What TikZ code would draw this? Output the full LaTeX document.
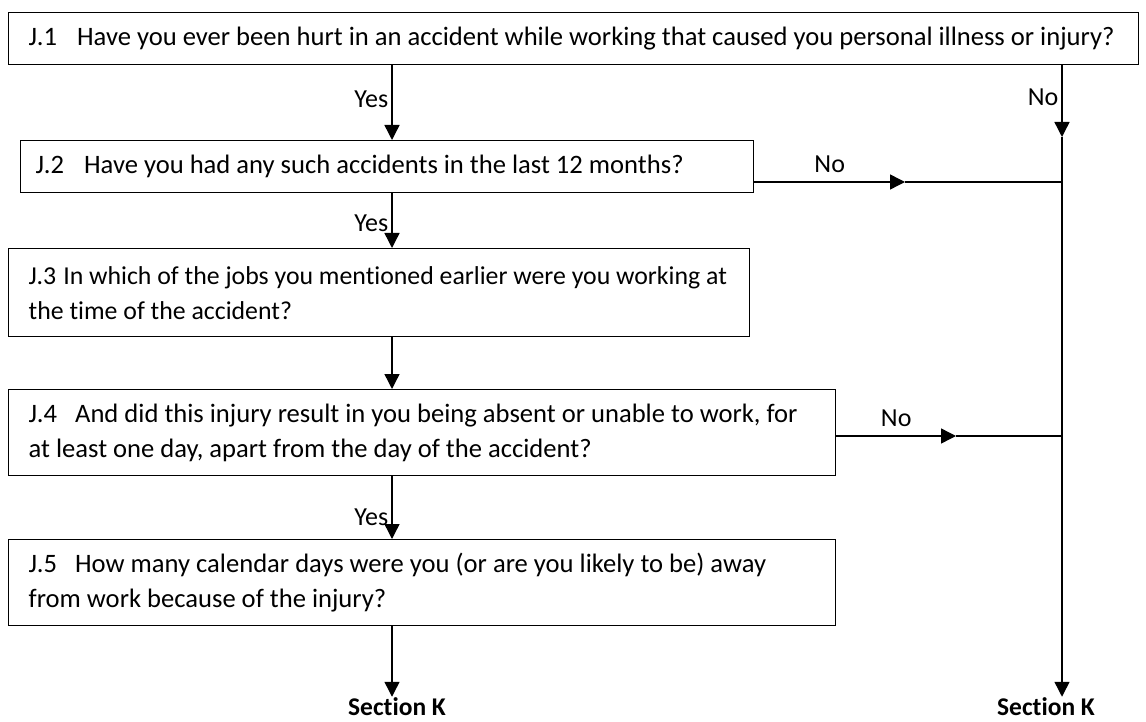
\documentclass[tikz,border=0pt]{standalone}
\usepackage{fontspec}
\setmainfont{Carlito}[Ligatures=NoCommon]
\usetikzlibrary{arrows.meta}
\tikzset{
  qbox/.style={draw, line width=1.4pt, anchor=north west, align=flush left, inner xsep=20pt, inner ysep=0pt, font=\fontsize{26.6}{35}\selectfont},
  flow/.style={line width=1.4pt},
  arr/.style={flow, -{Triangle[length=15pt,width=15pt]}},
  lbl/.style={inner sep=3pt, font=\fontsize{26}{28}\selectfont},
  endlbl/.style={inner sep=1pt, font=\fontsize{25.5}{28}\selectfont\bfseries},
}
\begin{document}
\begin{tikzpicture}[x=1pt,y=-1pt]
    \useasboundingbox (0,0) rectangle (1146,722);
    % question boxes
    \node[qbox, text width=1090pt, minimum height=52pt] (j1) at (8,12) {J.1\hspace{20pt}Have you ever been hurt in an accident while working that caused you personal illness or injury?};
    \node[qbox, inner xsep=15pt, text width=703pt, minimum height=52pt] (j2) at (20,140) {J.2\hspace{20pt}Have you had any such accidents in the last 12 months?};
    \node[qbox, font=\fontsize{25.8}{35}\selectfont, text width=701pt, minimum height=88pt] (j3) at (8,248) {J.3\hspace{7pt}In which of the jobs you mentioned earlier were you working at\\the time of the accident?};
    \node[qbox, text width=787pt, minimum height=86pt] (j4) at (8,389) {J.4\hspace{18pt}And did this injury result in you being absent or unable to work, for\\at least one day, apart from the day of the accident?};
    \node[qbox, text width=787pt, minimum height=86pt] (j5) at (8,539) {J.5\hspace{18pt}How many calendar days were you (or are you likely to be) away\\from work because of the injury?};
    \node[endlbl] (sk1) at (397,707) {Section K};
    \node[endlbl] (sk2) at (1046,707) {Section K};
    % columns and mid points
    \coordinate (xa) at (392,0);
    \coordinate (xr) at (1062,0);
    \coordinate (r1) at (1062,137);
    \coordinate (m2) at (905,182);
    \coordinate (m4) at (956,436);
    % yes path
    \draw[arr] (j1.south -| xa) -- node[lbl, left, pos=0.45] {Yes} (j2.north -| xa);
    \draw[arr] (j2.south -| xa) -- node[lbl, left, pos=0.55] {Yes} (j3.north -| xa);
    \draw[arr] (j3.south -| xa) -- (j4.north -| xa);
    \draw[arr] (j4.south -| xa) -- node[lbl, left, pos=0.65] {Yes} (j5.north -| xa);
    \draw[arr] (j5.south -| xa) -- (sk1.north -| xa);
    % no path
    \draw[arr] (j1.south -| xr) -- node[lbl, left, pos=0.45] {No} (r1);
    \draw[arr] (r1) -- (sk2.north -| xr);
    \draw[arr] (j2.east |- m2) -- node[lbl, above=6pt] {No} (m2);
    \draw[flow] (m2) -- (m2 -| xr);
    \draw[arr] (j4.east |- m4) -- node[lbl, above=6pt] {No} (m4);
    \draw[flow] (m4) -- (m4 -| xr);
\end{tikzpicture}
\end{document}
